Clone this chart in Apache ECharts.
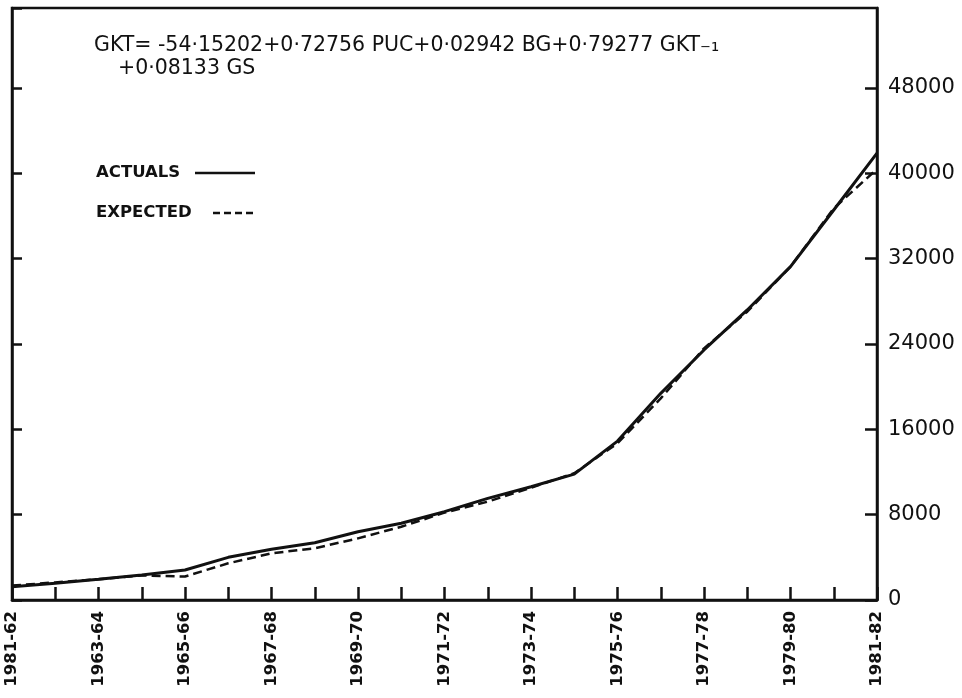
<!DOCTYPE html>
<html>
<head>
<meta charset="utf-8">
<script src="https://cdn.jsdelivr.net/npm/echarts@6/dist/echarts.min.js"></script>
<style>
html,body{margin:0;padding:0;background:#fff;}
#chart{width:962px;height:698px;}
</style>
</head>
<body>
<div id="chart"></div>
<script>
const categories = ['1981-62','1962-63','1963-64','1964-65','1965-66','1966-67','1967-68','1968-69','1969-70','1970-71','1971-72','1972-73','1973-74','1974-75','1975-76','1976-77','1977-78','1978-79','1979-80','1980-81','1981-82'];
const actuals = [1250,1560,1940,2340,2810,4000,4750,5370,6400,7190,8280,9530,10620,11800,14900,19375,23440,27190,31250,36560,41900];
const expected = [1350,1650,1950,2300,2200,3440,4375,4850,5780,6870,8190,9220,10530,11880,14690,18900,23590,27030,31250,36720,40400];
const yTicks = [0,8000,16000,24000,32000,40000,48000];
const equationLine1 = 'GKT= -54·15202+0·72756 PUC+0·02942 BG+0·79277 GKT₋₁';
const equationLine2 = '+0·08133 GS';
const legendNames = ['ACTUALS','EXPECTED'];

const chart = echarts.init(document.getElementById('chart'), null, {renderer:'canvas'});
const ink = '#111';
const yMax = 55500;
const option = {
  backgroundColor:'#fff',
  animation:false,
  grid:{left:12,right:85,top:8,bottom:98,show:true,borderColor:ink,borderWidth:2.5,backgroundColor:'transparent'},
  xAxis:{
    type:'category', data:categories, boundaryGap:false,
    axisLine:{show:true,lineStyle:{color:ink,width:2.5}},
    axisTick:{show:true,inside:true,length:13,interval:0,lineStyle:{color:ink,width:2.5}},
    axisLabel:{interval:1,rotate:90,margin:11,color:ink,fontFamily:'DejaVu Sans',fontWeight:'bold',fontSize:16.5},
    splitLine:{show:false}
  },
  yAxis:[{
    type:'value', position:'right', min:0, max:yMax, interval:8000,
    axisLine:{show:true,lineStyle:{color:ink,width:2.5}},
    axisTick:{show:true,inside:true,length:12,lineStyle:{color:ink,width:2.5}},
    axisLabel:{color:ink,fontFamily:'DejaVu Sans',fontSize:21,margin:11,showMaxLabel:false,
      formatter:v=>yTicks.indexOf(v)>=0?String(v):''},
    splitLine:{show:false}
  },{
    type:'value', position:'left', min:0, max:yMax, interval:8000,
    axisLine:{show:true,lineStyle:{color:ink,width:2.5}},
    axisTick:{show:true,inside:true,length:10,lineStyle:{color:ink,width:2.5}},
    axisLabel:{show:false},
    splitLine:{show:false}
  }],
  series:[
    {name:legendNames[0],type:'line',data:actuals,symbol:'none',lineStyle:{color:ink,width:3,type:'solid'},z:3},
    {name:legendNames[1],type:'line',data:expected,symbol:'none',lineStyle:{color:ink,width:2.5,type:[9,5]},z:2}
  ],
  graphic:[
    {type:'text',left:94,top:35,style:{text:equationLine1,font:'20.5px "DejaVu Sans"',fill:ink}},
    {type:'text',left:118,top:58,style:{text:equationLine2,font:'20.5px "DejaVu Sans"',fill:ink}},
    {type:'text',left:96,top:164,style:{text:legendNames[0],font:'bold 16.5px "DejaVu Sans"',fill:ink}},
    {type:'line',shape:{x1:195,y1:173,x2:255,y2:173},style:{stroke:ink,lineWidth:2.5}},
    {type:'text',left:96,top:204,style:{text:legendNames[1],font:'bold 16.5px "DejaVu Sans"',fill:ink}},
    {type:'line',shape:{x1:213,y1:213,x2:255,y2:213},style:{stroke:ink,lineWidth:2.5,lineDash:[7,4]}}
  ]
};
chart.setOption(option);
</script>
</body>
</html>
